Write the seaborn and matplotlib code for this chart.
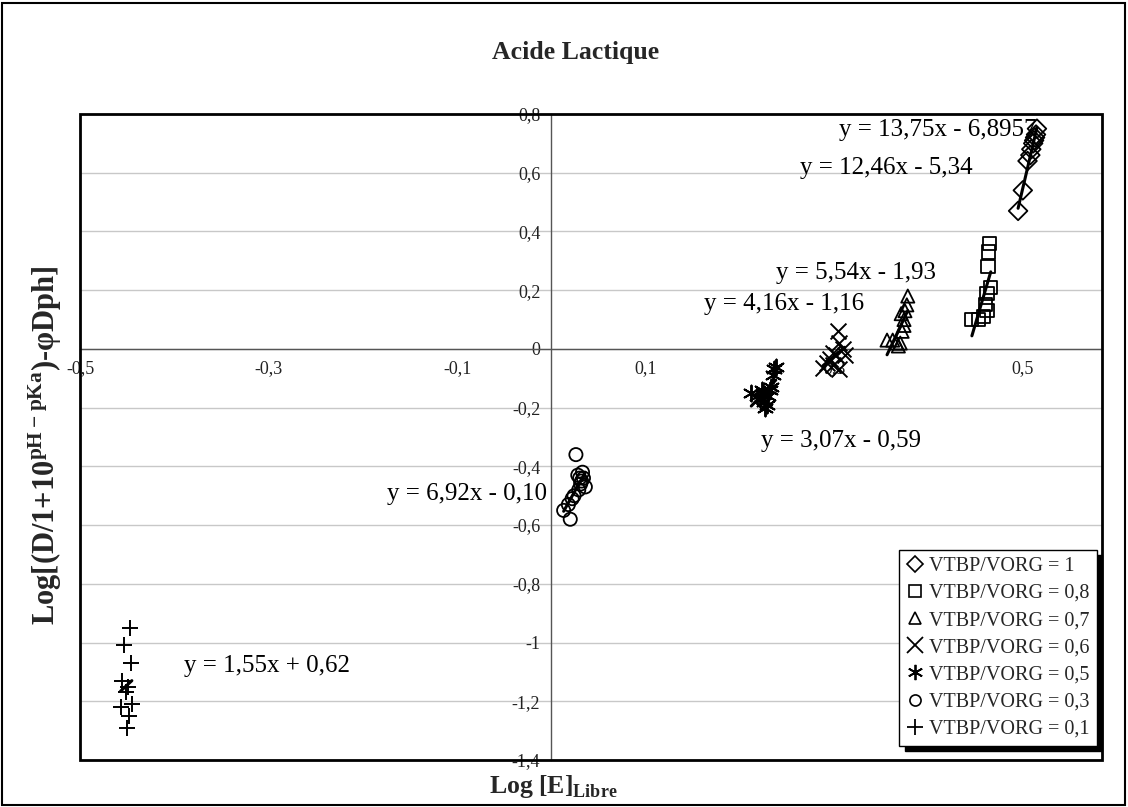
import numpy as np
import pandas as pd
import matplotlib
matplotlib.use("Agg")
import matplotlib.pyplot as plt
from matplotlib.lines import Line2D
from matplotlib.patches import Rectangle
import seaborn as sns

# values, one series per VTBP/VORG ratio
x_r10 = [0.495, 0.500, 0.505, 0.508, 0.509, 0.511, 0.512, 0.513, 0.514, 0.515]
y_r10 = [0.47, 0.54, 0.64, 0.66, 0.68, 0.70, 0.71, 0.72, 0.73, 0.75]
x_r08 = [0.446, 0.453, 0.458, 0.460, 0.462, 0.462, 0.466, 0.463, 0.464, 0.465]
y_r08 = [0.10, 0.10, 0.11, 0.15, 0.13, 0.19, 0.21, 0.28, 0.33, 0.36]
x_r07 = [0.356, 0.362, 0.366, 0.368, 0.370, 0.372, 0.374, 0.375, 0.377, 0.378, 0.374, 0.371]
y_r07 = [0.03, 0.03, 0.02, 0.01, 0.02, 0.06, 0.10, 0.13, 0.15, 0.18, 0.08, 0.12]
x_r06 = [0.288, 0.292, 0.295, 0.299, 0.302, 0.305, 0.299, 0.309, 0.311, 0.305, 0.304]
y_r06 = [-0.066, -0.048, -0.035, -0.014, -0.02, -0.07, -0.055, 0.0, -0.02, 0.021, 0.062]
x_r05 = [0.212, 0.218, 0.221, 0.223, 0.224, 0.226, 0.227, 0.229, 0.230, 0.232, 0.233, 0.235, 0.236, 0.238]
y_r05 = [-0.15, -0.16, -0.17, -0.14, -0.15, -0.18, -0.20, -0.19, -0.16, -0.14, -0.13, -0.09, -0.07, -0.06]
x_r03 = [0.013, 0.018, 0.020, 0.022, 0.024, 0.029, 0.031, 0.032, 0.034, 0.036, 0.030, 0.028, 0.033, 0.026]
y_r03 = [-0.55, -0.53, -0.58, -0.51, -0.50, -0.48, -0.46, -0.45, -0.44, -0.47, -0.44, -0.43, -0.42, -0.36]
x_r01 = [-0.447, -0.453, -0.446, -0.455, -0.449, -0.451, -0.445, -0.457, -0.448, -0.450]
y_r01 = [-0.95, -1.01, -1.07, -1.13, -1.15, -1.17, -1.21, -1.22, -1.25, -1.29]

series_labels = ["VTBP/VORG = 1", "VTBP/VORG = 0,8", "VTBP/VORG = 0,7", "VTBP/VORG = 0,6",
                 "VTBP/VORG = 0,5", "VTBP/VORG = 0,3", "VTBP/VORG = 0,1"]
series_markers = ["D", "s", "^", "x", (6, 2, 0), "o", "+"]

equations = ["y = 13,75x - 6,8957", "y = 12,46x - 5,34", "y = 5,54x - 1,93", "y = 4,16x - 1,16",
             "y = 3,07x - 0,59", "y = 6,92x - 0,10", "y = 1,55x + 0,62"]
eq_x = [0.41, 0.355, 0.323, 0.247, 0.307, -0.09, -0.302]
eq_y = [0.745, 0.615, 0.26, 0.152, -0.315, -0.495, -1.08]

x_ticks = [-0.5, -0.3, -0.1, 0.1, 0.3, 0.5]
x_tick_labels = ["-0,5", "-0,3", "-0,1", "0,1", "0,3", "0,5"]
y_ticks = [0.8, 0.6, 0.4, 0.2, 0.0, -0.2, -0.4, -0.6, -0.8, -1.0, -1.2, -1.4]
y_tick_labels = ["0,8", "0,6", "0,4", "0,2", "0", "-0,2", "-0,4", "-0,6", "-0,8", "-1", "-1,2", "-1,4"]

sns.set_theme(style="white")
plt.rcParams["font.family"] = ["Liberation Serif", "DejaVu Serif"]
plt.rcParams["mathtext.fontset"] = "custom"
plt.rcParams["mathtext.rm"] = "Liberation Serif"
plt.rcParams["mathtext.bf"] = "Liberation Serif:bold"

W, H = 1128, 807
left, right, top, bottom = 80, 1102, 114, 760

fig = plt.figure(figsize=(W / 100, H / 100), dpi=100)
fig.patch.set_facecolor("white")
ax = fig.add_axes([left / W, (H - bottom) / H, (right - left) / W, (bottom - top) / H])

xs = [x_r10, x_r08, x_r07, x_r06, x_r05, x_r03, x_r01]
ys = [y_r10, y_r08, y_r07, y_r06, y_r05, y_r03, y_r01]

for xv, yv, m in zip(xs, ys, series_markers):
    df = pd.DataFrame({"x": xv, "y": yv})
    sns.regplot(data=df, x="x", y="y", scatter=False, ci=None, truncate=True,
                color="black", line_kws={"lw": 2.2, "zorder": 4}, ax=ax)
    if m in ("D", "s", "^", "o"):
        sns.scatterplot(data=df, x="x", y="y", marker=m, s=90, facecolors="none",
                        edgecolor="black", linewidth=1.3, zorder=5, ax=ax)
    else:
        sns.scatterplot(data=df, x="x", y="y", marker=m, s=130, color="black",
                        linewidth=1.4, zorder=5, ax=ax)

for txt, tx, ty in zip(equations, eq_x, eq_y):
    ax.text(tx, ty, txt, ha="center", va="center", fontsize=18, color="black", zorder=6)

ax.set_xlim(-0.5, 0.584)
ax.set_ylim(-1.4, 0.8)
ax.set_xlabel("")
ax.set_ylabel("")
ax.set_xticks(x_ticks)
ax.set_xticklabels(x_tick_labels)
ax.set_yticks(y_ticks)
ax.set_yticklabels(y_tick_labels)
ax.tick_params(axis="both", direction="out", length=5, width=1, color="#555555",
               labelsize=13, labelcolor="#222222", pad=3)
ax.yaxis.grid(True, color="#c8c8c8", lw=1)
ax.xaxis.grid(False)
ax.set_axisbelow(True)

# axes cross at zero like the spreadsheet chart
ax.spines["left"].set_position(("data", 0))
ax.spines["bottom"].set_position(("data", 0))
for side in ("left", "bottom"):
    ax.spines[side].set_color("#555555")
    ax.spines[side].set_linewidth(1)
for side in ("top", "right"):
    ax.spines[side].set_visible(False)
ax.add_patch(Rectangle((0, 0), 1, 1, transform=ax.transAxes, fill=False,
                       ec="black", lw=2, zorder=7, clip_on=False))

handles = []
for m in series_markers:
    if m in ("D", "s", "^", "o"):
        handles.append(Line2D([], [], marker=m, ls="none", mfc="none", mec="black", ms=8, mew=1.2))
    else:
        handles.append(Line2D([], [], marker=m, ls="none", color="black", ms=11, mew=1.3))
leg = ax.legend(handles, series_labels, loc="lower right", bbox_to_anchor=(0.995, 0.022),
                borderaxespad=0, frameon=True, fancybox=False, edgecolor="black",
                shadow={"color": "black", "alpha": 1, "ox": 4, "oy": -4}, fontsize=14.5,
                handlelength=0.9, handletextpad=0.25, labelspacing=0.4, borderpad=0.35,
                framealpha=1)
leg.get_frame().set_linewidth(1)
leg.set_zorder(8)

fig.text(0.51, 1 - 52 / H, "Acide Lactique", ha="center", va="center",
         fontsize=18.5, fontweight="bold")
fig.text(553 / W, 1 - 786 / H, r"Log [E]$_{\mathbf{Libre}}$", ha="center", va="center",
         fontsize=18.5, fontweight="bold")
fig.text(45 / W, 1 - 445 / H, r"Log[(D/1+10$^{\mathbf{pH-pKa}}$)-φDph]", ha="center",
         va="center", rotation=90, fontsize=22, fontweight="bold")

fig.add_artist(Rectangle((0.002, 0.003), 0.995, 0.993, transform=fig.transFigure,
                         fill=False, ec="black", lw=1.5))

fig.savefig("out.png", dpi=100, facecolor="white")
